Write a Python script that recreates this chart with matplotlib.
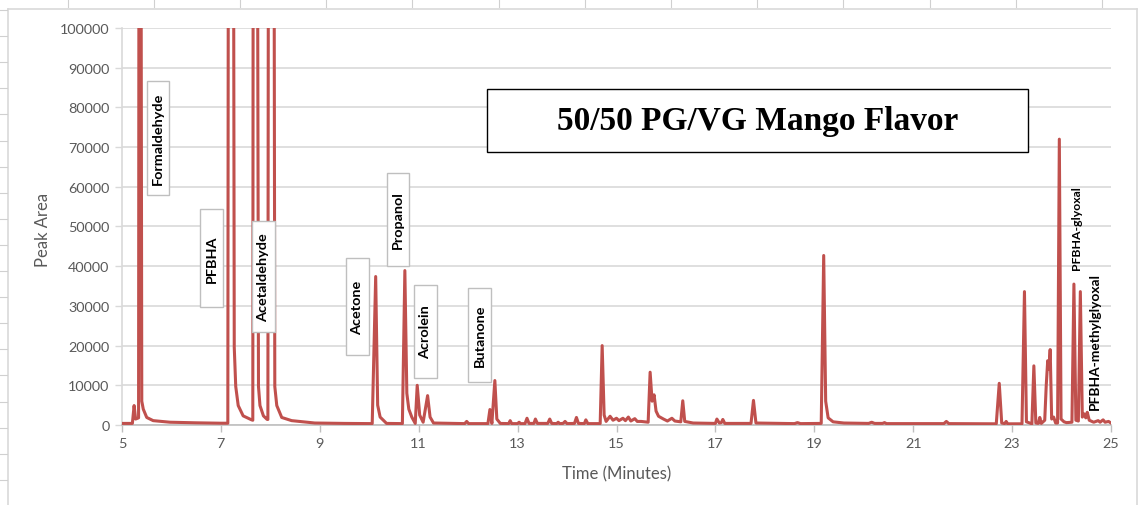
import matplotlib
matplotlib.use("Agg")
import matplotlib.pyplot as plt
from matplotlib.patches import Rectangle
from matplotlib.lines import Line2D

# Chromatogram trace: retention time (min) and detector response (peak area units).
# Off-scale apexes are stored above the 100000 axis limit and get clipped.
trace_min = [
    5.00, 5.21, 5.245, 5.275, 5.335, 5.35, 5.37, 5.40, 5.43, 5.50, 5.63, 5.97, 6.50, 7.00,
    7.14, 7.16, 7.24, 7.27, 7.30, 7.35, 7.45, 7.62,
    7.645, 7.66, 7.72, 7.76, 7.79, 7.86, 7.935,
    7.95, 7.97, 8.06, 8.09, 8.13, 8.23, 8.43, 8.90, 9.50,
    10.06, 10.13, 10.17, 10.22, 10.35,
    10.67, 10.72, 10.76, 10.80, 10.86, 10.93,
    10.97, 11.02, 11.09, 11.18, 11.23, 11.30,
    11.93, 11.97, 12.01, 12.40, 12.44, 12.48, 12.54, 12.58, 12.65,
    12.82, 12.85, 12.88, 13.00, 13.03, 13.06, 13.15, 13.19, 13.23,
    13.33, 13.36, 13.40, 13.61, 13.65, 13.69, 13.79, 13.82, 13.85,
    13.92, 13.96, 14.00, 14.15, 14.19, 14.23, 14.35, 14.38, 14.42,
    14.67, 14.71, 14.75, 14.79, 14.87, 14.93, 15.00, 15.05, 15.13, 15.18,
    15.24, 15.29, 15.37, 15.42, 15.50, 15.64, 15.68, 15.72, 15.76, 15.80,
    15.85, 15.95, 16.03, 16.12, 16.18, 16.30, 16.34, 16.38, 16.55,
    17.00, 17.03, 17.08, 17.12, 17.15, 17.19, 17.72, 17.77, 17.82,
    18.60, 18.66, 18.72, 19.14, 19.19, 19.23, 19.28, 19.38, 19.60,
    20.10, 20.16, 20.22, 20.38, 20.42, 20.46, 21.62, 21.67, 21.72,
    22.68, 22.74, 22.79, 22.85, 22.88, 22.91, 23.20, 23.25, 23.29,
    23.40, 23.44, 23.48, 23.53, 23.56, 23.59, 23.66, 23.69, 23.72,
    23.745, 23.77, 23.80, 23.84, 23.88, 23.92, 23.955, 23.99, 24.05,
    24.10, 24.21, 24.25, 24.29, 24.34, 24.38, 24.42, 24.46, 24.49,
    24.52, 24.56, 24.65, 24.74, 24.78, 24.84, 24.88, 24.95, 25.00,
]
trace_area = [
    400, 400, 4900, 1500, 1800, 250000, 250000, 6000, 4000, 1900, 1100, 700, 550, 450,
    450, 250000, 250000, 19600, 9700, 4900, 2300, 1300,
    1200, 250000, 250000, 9700, 4900, 2300, 1400,
    1400, 250000, 250000, 9700, 4900, 1900, 1100, 500, 400,
    350, 37400, 5000, 2000, 400,
    350, 38900, 8000, 4000, 2000, 400,
    10000, 2500, 700, 7400, 2000, 500,
    350, 900, 350, 350, 3900, 400, 11200, 1500, 400,
    350, 1100, 350, 350, 700, 350, 350, 1700, 400,
    400, 1500, 400, 400, 1500, 400, 350, 700, 350,
    400, 900, 350, 400, 1900, 400, 350, 1300, 350,
    350, 20000, 2500, 900, 2200, 1200, 1700, 1100, 1700, 1100,
    2000, 1000, 1600, 900, 900, 700, 13300, 6000, 7600, 3500,
    2200, 1500, 1000, 1700, 1000, 800, 6100, 900, 500,
    400, 1500, 500, 600, 1400, 400, 400, 6200, 500,
    350, 600, 350, 400, 42700, 6000, 1800, 800, 500,
    400, 700, 400, 400, 600, 350, 350, 900, 350,
    300, 10500, 500, 350, 900, 300, 300, 33600, 800,
    300, 14900, 500, 400, 1900, 400, 1200, 9900, 16200,
    14000, 19000, 1500, 2000, 500, 500, 72000, 1500, 800,
    600, 700, 35500, 1200, 1000, 33600, 2000, 2800, 1800,
    3200, 1200, 700, 1100, 700, 1300, 700, 900, 500,
]

# Compound annotations
compound_names = ["Formaldehyde", "PFBHA", "Acetaldehyde", "Acetone",
                  "Propanol", "Acrolein", "Butanone"]
free_names = ["PFBHA-glyoxal", "PFBHA-methylglyoxal"]
chart_title = "50/50 PG/VG Mango Flavor"

x_ticks = [5, 7, 9, 11, 13, 15, 17, 19, 21, 23, 25]
y_ticks = [0, 10000, 20000, 30000, 40000, 50000, 60000, 70000, 80000, 90000, 100000]

W, H = 1138, 506
fig = plt.figure(figsize=(W / 100, H / 100), dpi=100)
fig.patch.set_facecolor("white")

def fx(px):
    return px / W

def fy(py):
    return 1 - py / H

ax = fig.add_axes([fx(122), fy(426), fx(1111) - fx(122), fy(29) - fy(426)])
ax.set_facecolor("white")

grid_col = "#d9d9d9"
text_col = "#595959"
line_col = "#c0504d"
tick_font = dict(family="Lato", size=10.4, color=text_col)

ax.plot(trace_min, trace_area, color=line_col, lw=2.2, solid_joinstyle="round", zorder=3)

ax.set_xlim(5, 25)
ax.set_ylim(0, 100000)
ax.set_xticks(x_ticks)
ax.set_yticks(y_ticks)
ax.set_xticklabels([str(v) for v in x_ticks], fontdict=tick_font)
ax.set_yticklabels([str(v) for v in y_ticks], fontdict=tick_font)
ax.yaxis.grid(True, color=grid_col, lw=1.2, zorder=0)
ax.set_axisbelow(True)
ax.tick_params(axis="both", direction="out", length=5, width=1, color="#bfbfbf", pad=4)
ax.tick_params(axis="y", color=grid_col)
for side in ("top", "right"):
    ax.spines[side].set_visible(False)
ax.spines["left"].set_color(grid_col)
ax.spines["left"].set_linewidth(1.2)
ax.spines["bottom"].set_color("#bfbfbf")
ax.spines["bottom"].set_linewidth(1.2)

fig.text(fx(617), fy(474), "Time (Minutes)", ha="center", va="center",
         family="Lato", size=12, color=text_col)
fig.text(fx(43), fy(230), "Peak Area", ha="center", va="center", rotation=90,
         family="Lato", size=12, color=text_col)

# Boxed compound labels: box extents in (minutes, peak area)
box_extents = [
    (5.506, 5.950, 57940, 86650),
    (6.577, 7.042, 29720, 54410),
    (7.629, 8.094, 23430, 51390),
    (9.530, 9.995, 17630, 42070),
    (10.359, 10.804, 40050, 63480),
    (10.905, 11.370, 11840, 35270),
    (11.997, 12.462, 10830, 34510),
]
for name, (x0, x1, y0, y1) in zip(compound_names, box_extents):
    ax.add_patch(Rectangle((x0, y0), x1 - x0, y1 - y0, facecolor="white",
                           edgecolor="#bfbfbf", lw=1.0, zorder=4))
    ax.text((x0 + x1) / 2, (y0 + y1) / 2, name, rotation=90, ha="center", va="center",
            family="Lato", weight="bold", size=10.4, color="black", zorder=5)

free_pos = [(24.306, 49880, 8.8), (24.676, 21290, 9.9)]
for name, (xc, yc, sz) in zip(free_names, free_pos):
    ax.text(xc, yc, name, rotation=90, ha="center", va="center",
            family="Lato", weight="bold", size=sz, color="black", zorder=5)

# Title box
ax.add_patch(Rectangle((12.381, 68770), 23.322 - 12.381, 84640 - 68770,
                       facecolor="white", edgecolor="black", lw=1.0, zorder=4))
ax.text((12.381 + 23.322) / 2, (68770 + 84640) / 2, chart_title, ha="center", va="center",
        family="Liberation Serif", weight="bold", size=24, color="black", zorder=5)

# Chart-area frame and surrounding sheet grid marks
frame_col = "#d9d9d9"
fig.add_artist(Line2D([fx(8), fx(1137)], [fy(10), fy(10)], color=frame_col, lw=1.2))
fig.add_artist(Line2D([fx(8), fx(8)], [fy(10), fy(506)], color=frame_col, lw=1.2))
fig.add_artist(Line2D([fx(1137), fx(1137)], [fy(10), fy(506)], color=frame_col, lw=1.2))
col_x = 67.6
while col_x < W:
    fig.add_artist(Line2D([fx(col_x), fx(col_x)], [fy(0), fy(8)], color="#d0d0d0", lw=0.8))
    col_x += 86.2
row_y = 11.0
while row_y < H:
    fig.add_artist(Line2D([fx(0), fx(7)], [fy(row_y), fy(row_y)], color="#d0d0d0", lw=0.8))
    row_y += 26.1

fig.savefig("out.png", dpi=100, facecolor="white")
